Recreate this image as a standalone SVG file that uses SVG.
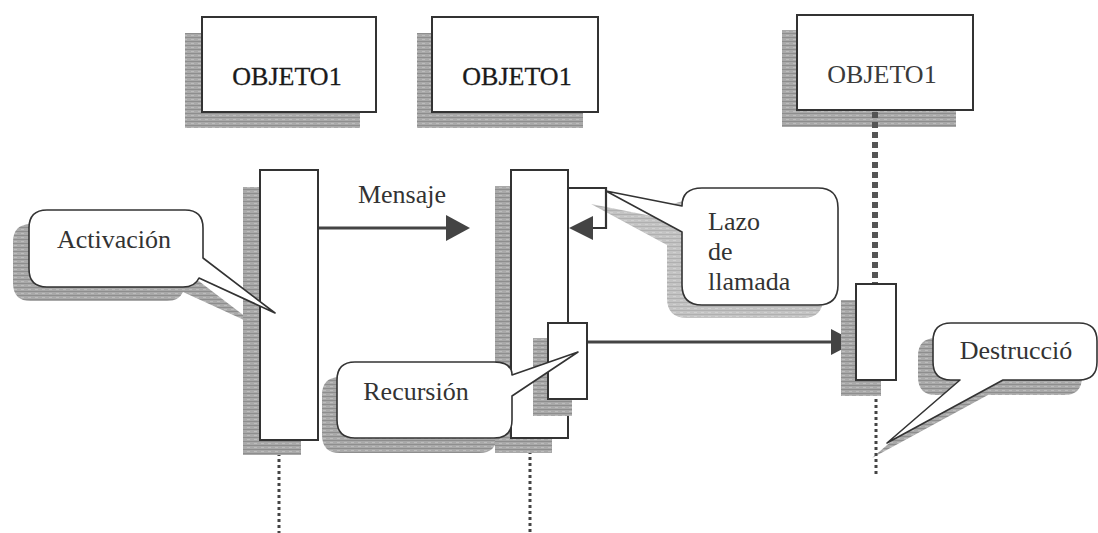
<svg xmlns="http://www.w3.org/2000/svg" xmlns:xlink="http://www.w3.org/1999/xlink" width="1098" height="533" viewBox="0 0 1098 533">
  <defs>
    <!-- streaky grey used for all drop shadows -->
    <pattern id="grain" width="7" height="4" patternUnits="userSpaceOnUse">
      <rect width="7" height="4" fill="#a9a9a9"/>
      <rect y="1" width="7" height="1" fill="#8e8e8e"/>
      <rect x="2" y="3" width="3" height="1" fill="#bdbdbd"/>
    </pattern>
    <style>
      .shade { fill: url(#grain); stroke: none; }
      .box { fill: #ffffff; stroke: #333333; stroke-width: 2; }
      .bar { fill: #ffffff; stroke: #333333; stroke-width: 2; }
      .callout { fill: #ffffff; stroke: #333333; stroke-width: 1.6; stroke-linejoin: round; }
      text { font-family: "Liberation Serif", Tinos, "Times New Roman", serif; font-size: 26px; }
      .title { fill: #1a1a1a; text-anchor: middle; stroke: #1a1a1a; stroke-width: 0.3; }
      .title.light { fill: #3a3a3a; stroke: none; }
      .label { fill: #333333; }
      .mid { text-anchor: middle; }
      .msg { stroke: #444444; stroke-width: 3; fill: none; }
      .loop { stroke: #333333; stroke-width: 2.2; fill: none; }
      .head { fill: #444444; }
      .dots { stroke: #444444; stroke-width: 3; stroke-dasharray: 3 3; fill: none; }
      .dashes { stroke: #555555; stroke-width: 6; stroke-dasharray: 6 4; fill: none; }
    </style>
    <!-- callout outlines (rounded box with pointer) -->
    <path id="p-act" d="M47,210 H185 Q203,210 203,228 V258 L275,313 L199,278 Q195,287 183,287 H47 Q29,287 29,269 V228 Q29,210 47,210 Z"/>
    <path id="p-lazo" d="M702,188 H818 Q838,188 838,208 V285 Q838,305 818,305 H702 Q682,305 682,285 V232 L606,191 L682,206 Q682,188 702,188 Z"/>
    <path id="p-rec" d="M355,362 H494 Q512,362 512,375 L578,352 L512,396 V420 Q512,438 494,438 H355 Q337,438 337,420 V380 Q337,362 355,362 Z"/>
    <path id="p-des" d="M951,323 H1079 Q1097,323 1097,341 V362 Q1097,380 1079,380 H1003 L887,443 L960,380 H951 Q933,380 933,362 V341 Q933,323 951,323 Z"/>
  </defs>

  <rect width="1098" height="533" fill="#ffffff"/>

  <!-- callout shadows sit underneath everything else -->
  <g id="callout-shadows">
    <use xlink:href="#p-act" class="shade" transform="translate(-16,14)"/>
    <use xlink:href="#p-lazo" class="shade" transform="translate(-15,13)" opacity="0.7"/>
    <use xlink:href="#p-rec" class="shade" transform="translate(-15,15)"/>
    <use xlink:href="#p-des" class="shade" transform="translate(-15,15)"/>
  </g>

  <!-- object heads -->
  <g id="obj1">
    <rect class="shade" x="185" y="33" width="175" height="95"/>
    <rect class="box" x="202" y="17" width="174" height="95"/>
    <text class="title" x="287" y="85">OBJETO1</text>
  </g>
  <g id="obj2">
    <rect class="shade" x="417" y="33" width="166" height="95"/>
    <rect class="box" x="432" y="17" width="166" height="95"/>
    <text class="title" x="517" y="85">OBJETO1</text>
  </g>
  <g id="obj3">
    <rect class="shade" x="782" y="30" width="174" height="97"/>
    <rect class="box" x="797" y="15" width="176" height="95"/>
    <text class="title light" x="882" y="83">OBJETO1</text>
  </g>

  <!-- lifelines and messages -->
  <g id="connectors">
    <line class="dashes" x1="875" y1="112" x2="875" y2="284"/>
    <line class="dots" x1="279" y1="441" x2="279" y2="533"/>
    <line class="dots" x1="530" y1="439" x2="530" y2="533"/>
    <line class="dots" x1="876" y1="381" x2="876" y2="476"/>

    <!-- Mensaje -->
    <line class="msg" x1="318" y1="228" x2="448" y2="228"/>
    <polygon class="head" points="470,228 446,215 446,241"/>
    <text class="label mid" x="402" y="203">Mensaje</text>

    <!-- self call loop -->
    <path class="loop" d="M567,188 H606 V228 H592"/>
    <polygon class="head" points="569,228 593,216 593,240"/>

    <!-- call to third object -->
    <line class="msg" x1="587" y1="342" x2="834" y2="342"/>
    <polygon class="head" points="856,342 831,329 831,355"/>
  </g>

  <!-- activation bars -->
  <g id="bar1">
    <rect class="shade" x="243" y="187" width="58" height="268"/>
    <rect class="bar" x="260" y="170" width="58" height="270"/>
  </g>
  <g id="bar2">
    <rect class="shade" x="495" y="186" width="57" height="267"/>
    <rect class="bar" x="511" y="170" width="57" height="268"/>
  </g>
  <g id="bar2-recursion">
    <rect class="shade" x="533" y="338" width="39" height="78"/>
    <rect class="bar" x="548" y="323" width="39" height="76"/>
  </g>
  <g id="bar3">
    <rect class="shade" x="841" y="300" width="40" height="96"/>
    <rect class="bar" x="856" y="284" width="40" height="96"/>
  </g>

  <!-- notes -->
  <g id="note-activacion">
    <use xlink:href="#p-act" class="callout"/>
    <text class="label mid" x="114" y="248">Activación</text>
  </g>
  <g id="note-lazo">
    <use xlink:href="#p-lazo" class="callout"/>
    <text class="label" x="708" y="230">Lazo</text>
    <text class="label" x="708" y="260">de</text>
    <text class="label" x="708" y="290">llamada</text>
  </g>
  <g id="note-recursion">
    <use xlink:href="#p-rec" class="callout"/>
    <text class="label mid" x="416" y="400">Recursión</text>
  </g>
  <g id="note-destruccion">
    <use xlink:href="#p-des" class="callout"/>
    <text class="label mid" x="1016" y="359">Destrucció</text>
  </g>
</svg>
